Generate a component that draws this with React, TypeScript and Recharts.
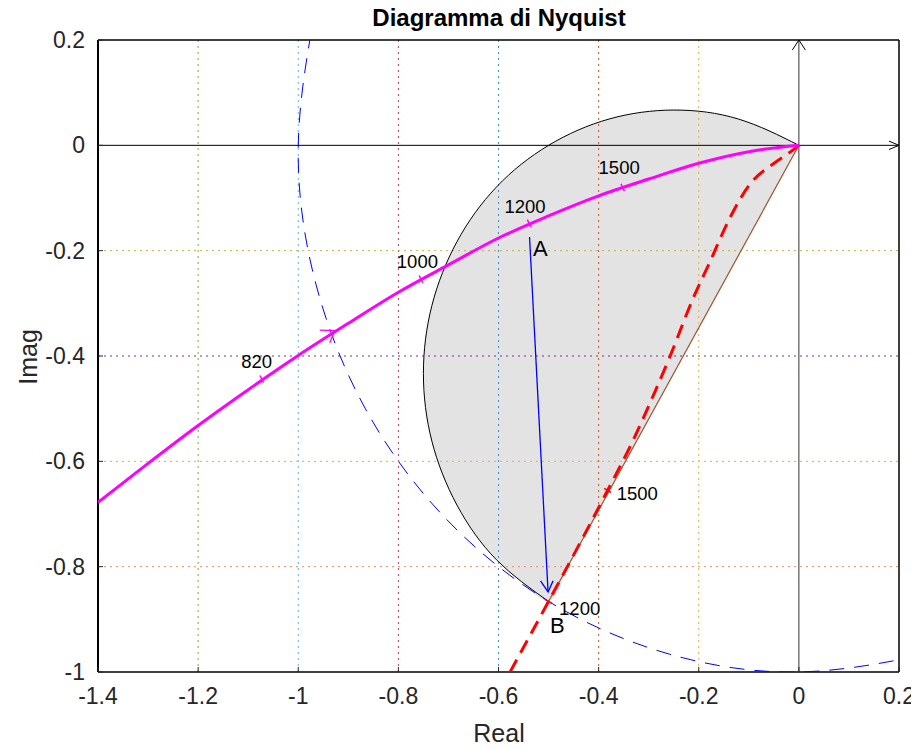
import React from "react";
import { ComposedChart, Line, Area, Scatter, XAxis, YAxis, ReferenceLine } from "recharts";

const xTicks = [-1.4, -1.2, -1, -0.8, -0.6, -0.4, -0.2, 0, 0.2];
const yTicks = [-1, -0.8, -0.6, -0.4, -0.2, 0, 0.2];

// dotted grid (coloured like the original figure)
const gridX = [-1.2, -1, -0.8, -0.6, -0.4, -0.2];
const gridXColors = ["#77AC30", "#4DBEEE", "#C23B5A", "#3D8FD0", "#D95319", "#EDB120"];
const gridY = [-0.8, -0.6, -0.4, -0.2];
const gridYColors = ["#E8906A", "#EDB120", "#7E2F8E", "#C4B040"];

// magenta Nyquist curve
const nyquist = [
  { x: -1.4, y: -0.678 },
  { x: -1.3, y: -0.604 },
  { x: -1.2, y: -0.532 },
  { x: -1.1, y: -0.464 },
  { x: -1.0, y: -0.399 },
  { x: -0.9, y: -0.338 },
  { x: -0.8, y: -0.279 },
  { x: -0.7, y: -0.227 },
  { x: -0.6, y: -0.176 },
  { x: -0.5, y: -0.134 },
  { x: -0.4, y: -0.096 },
  { x: -0.3, y: -0.064 },
  { x: -0.2, y: -0.034 },
  { x: -0.1, y: -0.012 },
  { x: 0, y: 0 },
];
const nyquistTicks = [
  { x: -1.073, y: -0.444 },
  { x: -0.755, y: -0.254 },
  { x: -0.539, y: -0.148 },
  { x: -0.352, y: -0.08 },
];
const nyquistLabels = [
  { x: -1.083, y: -0.423, text: "820" },
  { x: -0.762, y: -0.232, text: "1000" },
  { x: -0.547, y: -0.128, text: "1200" },
  { x: -0.359, y: -0.055, text: "1500" },
];
const nyquistArrow = [
  { x: -0.957, y: -0.351 },
  { x: -0.927, y: -0.352 },
  { x: -0.937, y: -0.375 },
];

// red dashed curve
const redCurve = [
  { x: -0.577, y: -1.0 },
  { x: -0.5, y: -0.866 },
  { x: -0.44, y: -0.76 },
  { x: -0.382, y: -0.655 },
  { x: -0.334, y: -0.566 },
  { x: -0.294, y: -0.482 },
  { x: -0.258, y: -0.402 },
  { x: -0.211, y: -0.29 },
  { x: -0.178, y: -0.222 },
  { x: -0.138, y: -0.138 },
  { x: -0.098, y: -0.074 },
  { x: -0.051, y: -0.035 },
  { x: -0.012, y: -0.009 },
  { x: 0, y: 0 },
];
const redTicks = [
  { x: -0.382, y: -0.655 },
  { x: -0.5, y: -0.866 },
];
const redLabels = [
  { x: -0.364, y: -0.674, text: "1500" },
  { x: -0.479, y: -0.892, text: "1200" },
];

// unit circle (blue dashed)
const unitCircle = [
  { x: -0.966, y: 0.259 },
  { x: -1.0, y: 0 },
  { x: -0.966, y: -0.259 },
  { x: -0.866, y: -0.5 },
  { x: -0.707, y: -0.707 },
  { x: -0.5, y: -0.866 },
  { x: -0.259, y: -0.966 },
  { x: 0, y: -1.0 },
  { x: 0.259, y: -0.966 },
];

// grey half disc on the segment O-B
const halfArc = [
  { x: 0, y: 0 },
  { x: -0.121, y: 0.05 },
  { x: -0.25, y: 0.067 },
  { x: -0.379, y: 0.05 },
  { x: -0.5, y: 0.0 },
  { x: -0.604, y: -0.079 },
  { x: -0.683, y: -0.183 },
  { x: -0.733, y: -0.304 },
  { x: -0.75, y: -0.433 },
  { x: -0.733, y: -0.562 },
  { x: -0.683, y: -0.683 },
  { x: -0.604, y: -0.787 },
  { x: -0.5, y: -0.866 },
];
const chord = [
  { x: -0.5, y: -0.866 },
  { x: 0, y: 0 },
];
const halfDisc = [
  { x: -0.75, range: [-0.433, -0.433] },
  { x: -0.745, range: [-0.504, -0.362] },
  { x: -0.74, range: [-0.533, -0.334] },
  { x: -0.72, range: [-0.604, -0.262] },
  { x: -0.7, range: [-0.651, -0.215] },
  { x: -0.65, range: [-0.733, -0.133] },
  { x: -0.6, range: [-0.79, -0.076] },
  { x: -0.55, range: [-0.833, -0.033] },
  { x: -0.5, range: [-0.866, 0.0] },
  { x: -0.45, range: [-0.779, 0.025] },
  { x: -0.4, range: [-0.693, 0.044] },
  { x: -0.35, range: [-0.606, 0.057] },
  { x: -0.3, range: [-0.52, 0.064] },
  { x: -0.25, range: [-0.433, 0.067] },
  { x: -0.2, range: [-0.346, 0.064] },
  { x: -0.15, range: [-0.26, 0.057] },
  { x: -0.1, range: [-0.173, 0.044] },
  { x: -0.05, range: [-0.087, 0.025] },
  { x: -0.02, range: [-0.035, 0.011] },
  { x: 0, range: [0, 0] },
];

// vector A -> B
const vecAB = [
  { x: -0.538, y: -0.174 },
  { x: -0.501, y: -0.848 },
];
const vecHead = [
  { x: -0.516, y: -0.827 },
  { x: -0.501, y: -0.848 },
  { x: -0.491, y: -0.827 },
];
const pointLabels = [
  { x: -0.531, y: -0.21, text: "A" },
  { x: -0.497, y: -0.926, text: "B" },
];

// axis arrows
const realAxis = [
  { x: -1.4, y: 0 },
  { x: 0.2, y: 0 },
];
const realHead = [
  { x: 0.18, y: 0.008 },
  { x: 0.2, y: 0 },
  { x: 0.18, y: -0.008 },
];
const imagAxis = [
  { x: 0, y: -1 },
  { x: 0, y: 0.2 },
];
const imagHead = [
  { x: -0.013, y: 0.181 },
  { x: 0, y: 0.2 },
  { x: 0.013, y: 0.181 },
];

const FONT = "'Liberation Sans', Arial, Helvetica, sans-serif";

const tickMark = (angle: number, color: string) => (p: any) => {
  const a = (angle * Math.PI) / 180;
  const dx = Math.cos(a) * 4;
  const dy = Math.sin(a) * 4;
  return (
    <line x1={p.cx - dx} y1={p.cy - dy} x2={p.cx + dx} y2={p.cy + dy} stroke={color} strokeWidth={1.5} />
  );
};

const textMark = (anchor: string, size: number) => (p: any) => (
  <text x={p.cx} y={p.cy} textAnchor={anchor} fontSize={size} fill="#000" fontFamily={FONT}>
    {p.payload.text}
  </text>
);

const poly = (data: any[], color: string, width = 1, dash?: string, type: any = "linear") => (
  <Line
    data={data}
    dataKey="y"
    type={type}
    stroke={color}
    strokeWidth={width}
    strokeDasharray={dash}
    dot={false}
    activeDot={false}
    isAnimationActive={false}
    legendType="none"
  />
);

export default function App() {
  return (
    <div style={{ position: "relative", width: 911, height: 734, fontFamily: FONT }}>
      <div
        style={{
          position: "absolute",
          left: 491,
          top: 10,
          transform: "translate(-50%, -50%)",
          fontSize: 24,
          fontWeight: "bold",
          lineHeight: 1,
          whiteSpace: "nowrap",
          color: "#000",
        }}
      >
        Diagramma di Nyquist
      </div>
      <ComposedChart width={911} height={734} margin={{ top: 32, right: 20, bottom: 0, left: 0 }}>
        <XAxis
          type="number"
          dataKey="x"
          domain={[-1.4, 0.2]}
          ticks={xTicks}
          interval={0}
          allowDataOverflow
          height={70}
          axisLine={false}
          tickSize={-5}
          tickMargin={21}
          tickLine={{ stroke: "#262626" }}
          tick={{ fontSize: 23, fill: "#262626", fontFamily: FONT }}
        />
        <YAxis
          type="number"
          dataKey="y"
          domain={[-1, 0.2]}
          ticks={yTicks}
          interval={0}
          allowDataOverflow
          width={90}
          axisLine={false}
          tickSize={-5}
          tickMargin={18}
          tickLine={{ stroke: "#262626" }}
          tick={{ fontSize: 23, fill: "#262626", fontFamily: FONT }}
        />
        <Area
          data={halfDisc}
          dataKey="range"
          type="monotone"
          fill="#e3e3e3"
          fillOpacity={1}
          stroke="none"
          isAnimationActive={false}
          legendType="none"
        />
        {gridX.map((v, i) => (
          <ReferenceLine key={"gx" + v} x={v} stroke={gridXColors[i]} strokeDasharray="2 4" />
        ))}
        {gridY.map((v, i) => (
          <ReferenceLine key={"gy" + v} y={v} stroke={gridYColors[i]} strokeDasharray="2 4" />
        ))}
        <ReferenceLine x={-1.4} stroke="#000" strokeWidth={2} />
        <ReferenceLine x={0.2} stroke="#000" strokeWidth={1.5} />
        <ReferenceLine y={-1} stroke="#000" strokeWidth={1.5} />
        <ReferenceLine y={0.2} stroke="#000" strokeWidth={1.5} />
        {poly(halfArc, "#000", 1, undefined, "natural")}
        {poly(chord, "#a0522d", 1.2)}
        {poly(unitCircle, "#0000ff", 1, "15 10", "natural")}
        {poly(realAxis, "#000", 1)}
        {poly(realHead, "#000", 1)}
        {poly(imagAxis, "#333", 1)}
        {poly(imagHead, "#000", 1)}
        {poly(vecAB, "#0000ff", 1.3)}
        {poly(vecHead, "#0000ff", 1.3)}
        {poly(redCurve, "#ff0000", 3, "14 8", "monotone")}
        {poly(nyquist, "#ff00ff", 3, undefined, "monotone")}
        {poly(nyquistArrow, "#ff00ff", 1.3)}
        <Scatter data={nyquistTicks} shape={tickMark(65, "#ff00ff")} isAnimationActive={false} legendType="none" />
        <Scatter data={redTicks} shape={tickMark(30, "#ff0000")} isAnimationActive={false} legendType="none" />
        <Scatter data={nyquistLabels} shape={textMark("middle", 18.5)} isAnimationActive={false} legendType="none" />
        <Scatter data={redLabels} shape={textMark("start", 18.5)} isAnimationActive={false} legendType="none" />
        <Scatter data={pointLabels} shape={textMark("start", 22)} isAnimationActive={false} legendType="none" />
      </ComposedChart>
      <div
        style={{
          position: "absolute",
          left: 491,
          top: 725,
          transform: "translate(-50%, -50%)",
          fontSize: 25,
          lineHeight: 1,
          color: "#262626",
        }}
      >
        Real
      </div>
      <div
        style={{
          position: "absolute",
          left: 20,
          top: 349,
          transform: "translate(-50%, -50%) rotate(-90deg)",
          fontSize: 25,
          lineHeight: 1,
          color: "#262626",
        }}
      >
        Imag
      </div>
    </div>
  );
}
